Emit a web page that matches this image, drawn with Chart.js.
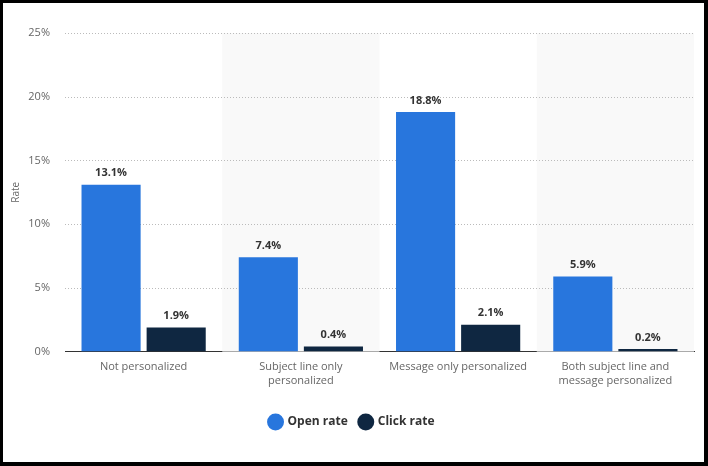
<!DOCTYPE html>
<html>
<head>
<meta charset="utf-8">
<script src="https://cdn.jsdelivr.net/npm/chart.js@4"></script>
<style>
  html, body { margin: 0; padding: 0; background: #fff; }
  #frame { width: 701px; height: 459px; border-top: 3px solid #000; border-left: 3px solid #000; border-right: 4px solid #000; border-bottom: 4px solid #000; position: relative; background: #fff; }
  canvas { display: block; }
</style>
</head>
<body>
<div id="frame"><canvas id="c" width="701" height="459"></canvas></div>
<script>
const categories = ["Not personalized", ["Subject line only", "personalized"], "Message only personalized", ["Both subject line and", "message personalized"]];
const openRate = [13.1, 7.4, 18.8, 5.9];
const clickRate = [1.9, 0.4, 2.1, 0.2];
const yTicks = [0, 5, 10, 15, 20, 25];
const seriesNames = ["Open rate", "Click rate"];
const FONT = "'Open Sans', sans-serif";

const bandPlugin = {
  id: 'bands',
  beforeDatasetsDraw(chart) {
    const {ctx, chartArea, scales} = chart;
    const x = scales.x, y = scales.y;
    const w = (chartArea.right - chartArea.left) / categories.length;
    ctx.save();
    ctx.fillStyle = '#f9f9f9';
    categories.forEach((c, i) => {
      if (i % 2 === 1) {
        const cx = x.getPixelForValue(i);
        ctx.fillRect(cx - w / 2, chartArea.top, w, chartArea.bottom - chartArea.top);
      }
    });
    // dotted grid lines
    ctx.strokeStyle = '#bbbbbb';
    ctx.lineWidth = 1;
    ctx.setLineDash([1, 2]);
    yTicks.forEach(v => {
      if (v === 0) return;
      const py = Math.round(y.getPixelForValue(v)) + 0.5;
      ctx.beginPath();
      ctx.moveTo(chartArea.left, py);
      ctx.lineTo(chartArea.right, py);
      ctx.stroke();
    });
    ctx.restore();
  }
};

const labelPlugin = {
  id: 'valueLabels',
  afterDatasetsDraw(chart) {
    const {ctx} = chart;
    ctx.save();
    ctx.font = "bold 11px " + FONT;
    ctx.fillStyle = '#333';
    ctx.textAlign = 'center';
    ctx.textBaseline = 'bottom';
    chart.data.datasets.forEach((ds, di) => {
      chart.getDatasetMeta(di).data.forEach((bar, i) => {
        ctx.fillText(ds.data[i].toFixed(1) + '%', bar.x, bar.y - 6);
      });
    });
    ctx.restore();
  }
};

new Chart(document.getElementById('c'), {
  type: 'bar',
  data: {
    labels: categories,
    datasets: [
      { label: seriesNames[0], data: openRate, backgroundColor: '#2876dd', categoryPercentage: 0.828, barPercentage: 0.908 },
      { label: seriesNames[1], data: clickRate, backgroundColor: '#0f2741', categoryPercentage: 0.828, barPercentage: 0.908 }
    ]
  },
  options: {
    responsive: false,
    animation: false,
    layout: { padding: { top: 30, right: 10, left: 7, bottom: 24 } },
    plugins: {
      tooltip: { enabled: false },
      legend: {
        position: 'bottom',
        labels: {
          usePointStyle: true,
          pointStyle: 'circle',
          boxWidth: 12,
          boxHeight: 12,
          padding: 12,
          color: '#333',
          font: { family: FONT, size: 12, weight: 'bold' }
        }
      }
    },
    scales: {
      x: {
        afterFit(s) { s.height += 8; },
        grid: { display: false, drawTicks: false },
        border: { display: true, color: '#333', width: 1 },
        ticks: { color: '#666', font: { family: FONT, size: 11 }, padding: 9, maxRotation: 0, autoSkip: false }
      },
      y: {
        min: 0, max: 25,
        afterBuildTicks(s) { s.ticks = yTicks.map(v => ({ value: v })); },
        afterFit(s) { s.width = 55; },
        grid: { display: false, drawTicks: false },
        border: { display: false },
        ticks: { color: '#666', font: { family: FONT, size: 11 }, padding: 15, callback: v => v + '%' },
        title: { display: true, text: 'Rate', color: '#666', font: { family: FONT, size: 10 }, padding: 0 }
      }
    }
  },
  plugins: [bandPlugin, labelPlugin]
});
</script>
</body>
</html>
